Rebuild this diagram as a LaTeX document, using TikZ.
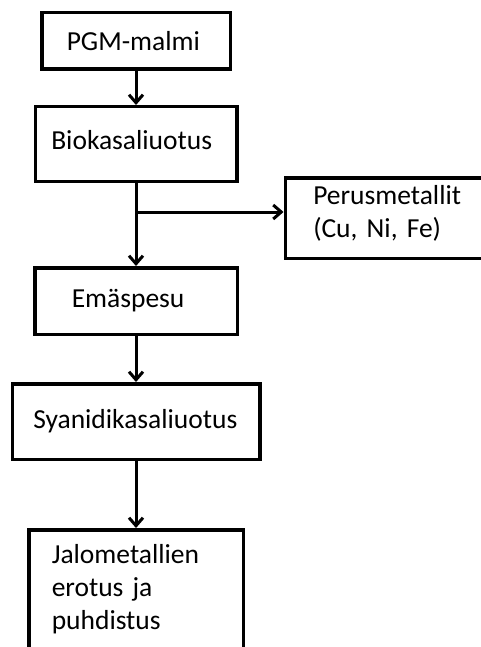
\documentclass[tikz,border=0pt]{standalone}
\usepackage{fontspec}
\setmainfont{Carlito}
\usetikzlibrary{positioning}
\usetikzlibrary{arrows.meta}

\begin{document}
\begin{tikzpicture}[x=1pt, y=-1pt,
    stage/.style={draw, line width=3.5pt, align=left, font=\fontsize{27.5}{33}\selectfont\frenchspacing},
    flow/.style={line width=3pt, -{Straight Barb[length=8pt, width=14pt]}}]
    \useasboundingbox (0,0) rectangle (481,647);

    \node [stage, text width=138.5pt, inner xsep=25pt, minimum height=56.5pt] (pgm) at (136,41) {PGM-malmi};
    \node [stage, below=34pt of pgm, text width=169.5pt, inner xsep=16pt, minimum height=74.5pt, text depth=9pt] (bio) {Biokasaliuotus};

    % side stream
    \node [stage, below right=-7pt and 45pt of bio.south east, text width=200pt, inner xsep=28pt, minimum height=80.5pt, text depth=46pt] (perus) {Perusmetallit\\(Cu, Ni, Fe)};

    \node [stage, below=83pt of bio, text width=128.5pt, inner xsep=37pt, minimum height=66.5pt] (emas) {Emäspesu};
    \node [stage, below=46pt of emas, text width=205.5pt, inner xsep=21pt, minimum height=75.5pt] (syan) {Syanidikasaliuotus};
    \node [stage, below=67pt of syan, text width=168.5pt, inner xsep=23pt, inner ysep=15pt, text depth=120pt] (jalo) {Jalometallien\\erotus ja\\puhdistus};

    \coordinate [below=29pt of bio] (split);

    \draw [flow] (pgm.south) -- (bio.north);
    \draw [flow] (bio.south) -- (emas.north);
    \draw [flow] (split) -- (split -| perus.west);
    \draw [flow] (emas.south) -- (syan.north);
    \draw [flow] (syan.south) -- (jalo.north);
\end{tikzpicture}
\end{document}
